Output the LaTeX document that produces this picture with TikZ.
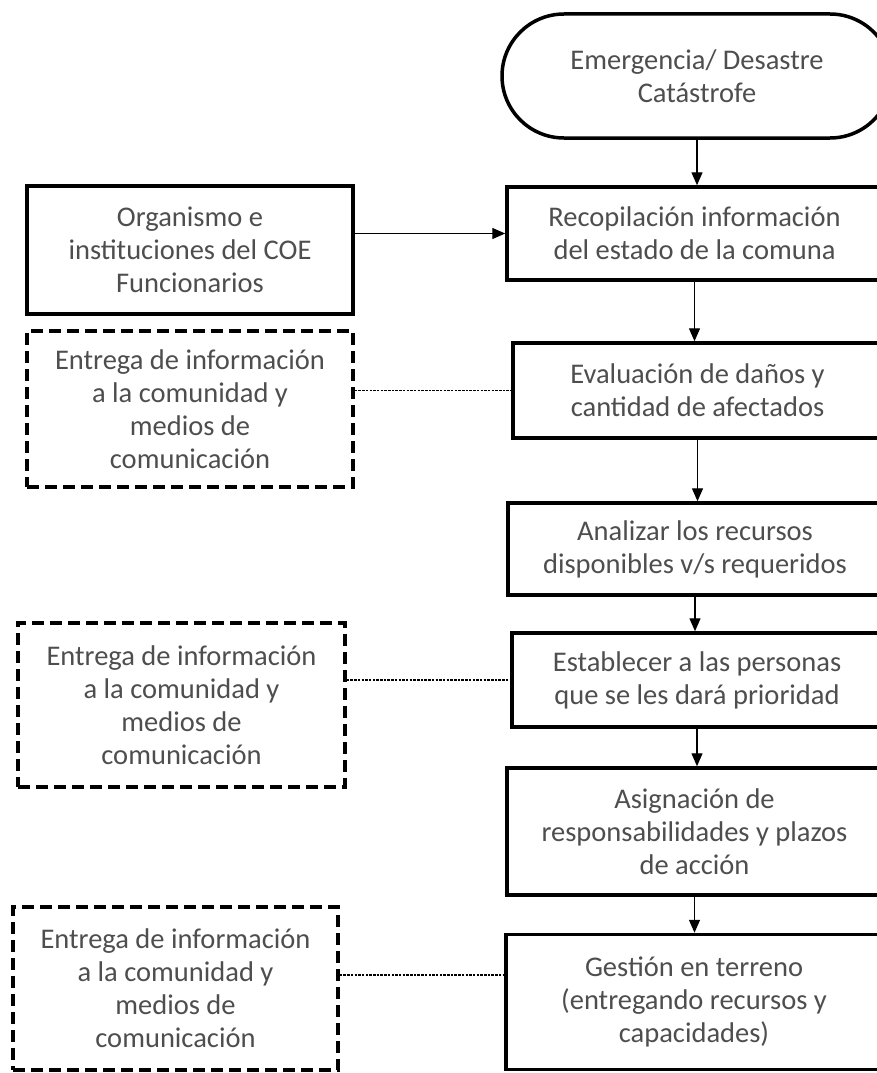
\documentclass[tikz,border=0pt]{standalone}
\usepackage{fontspec}
\setmainfont{Carlito}
\usetikzlibrary{arrows.meta}
\definecolor{txt}{RGB}{78,78,78}
\begin{document}
\begin{tikzpicture}[x=1pt,y=-1pt,
  every node/.style={font=\fontsize{28.5}{33}\selectfont, text=txt, align=center, inner sep=0pt},
  solidbox/.style={draw=black, line width=3.5pt, minimum width=#1},
  dashbox/.style={draw=black, line width=3.5pt, dash pattern=on 12pt off 6pt},
  arr/.style={line width=1.4pt, -{Triangle[length=13pt,width=11pt]}},
  dots/.style={line width=1.2pt, dash pattern=on 2.5pt off 1.2pt}
]
\useasboundingbox (0,0) rectangle (877,1073);
\fill[white] (0,0) rectangle (877,1073);
\clip (0,0) rectangle (877,1073);

\node[draw=black, line width=3.5pt, rounded corners=62pt, minimum width=390pt, minimum height=124pt] (term) at (697,76) {Emergencia/ Desastre\\Catástrofe};
\node[solidbox=375pt, minimum height=93pt] (recop) at (694.5,233.5) {Recopilación información\\del estado de la comuna};
\node[solidbox=326pt, minimum height=128pt] (org) at (190,250) {Organismo e\\instituciones del COE\\Funcionarios};
\node[solidbox=369pt, minimum height=95pt] (eval) at (697.5,390.5) {Evaluación de daños y\\cantidad de afectados};
\node[dashbox, minimum width=326pt, minimum height=156pt] (dashA) at (190,409) {Entrega de información\\a la comunidad y\\medios de\\comunicación};
\node[solidbox=374pt, minimum height=92pt] (anal) at (695,549) {Analizar los recursos\\disponibles v/s requeridos};
\node[dashbox, minimum width=327pt, minimum height=164pt] (dashB) at (181.5,705) {Entrega de información\\a la comunidad y\\medios de\\comunicación};
\node[solidbox=370pt, minimum height=94pt] (estab) at (697,680) {Establecer a las personas\\que se les dará prioridad};
\node[solidbox=375pt, minimum height=127pt] (asig) at (694.5,831.5) {Asignación de\\responsabilidades y plazos\\de acción};
\node[solidbox=376pt, minimum height=135pt] (gest) at (694,1002) {Gestión en terreno\\(entregando recursos y\\capacidades)};
\node[dashbox, minimum width=325pt, minimum height=163pt] (dashC) at (175.5,988.5) {Entrega de información\\a la comunidad y\\medios de\\comunicación};
\coordinate (cC) at (0,975);

\draw[arr] (term.south) -- (term.south |- recop.north);
\draw[arr] (org.east |- recop.west) -- (recop.west);
\draw[arr] (recop.south) -- (recop.south |- eval.north);
\draw[arr] (eval.south) -- (eval.south |- anal.north);
\draw[arr] (anal.south) -- (anal.south |- estab.north);
\draw[arr] (estab.south) -- (estab.south |- asig.north);
\draw[arr] (asig.south) -- (asig.south |- gest.north);

\draw[dots] (dashA.east |- eval.west) -- (eval.west);
\draw[dots] (dashB.east |- estab.west) -- (estab.west);
\draw[dots] (dashC.east |- cC) -- (gest.west |- cC);
\end{tikzpicture}
\end{document}
